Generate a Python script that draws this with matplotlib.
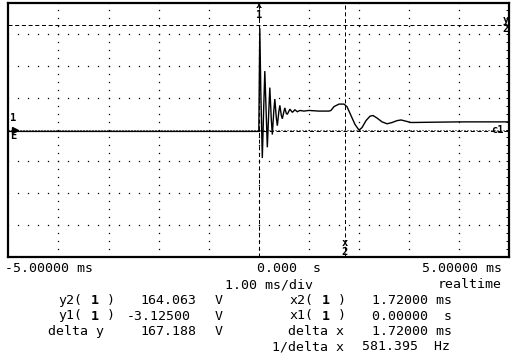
import matplotlib
matplotlib.use("Agg")
import matplotlib.pyplot as plt
import numpy as np

# ---------------- data ----------------
time_ms = [-5.00, -0.02, 0.00, 0.02, 0.04, 0.07, 0.10, 0.12, 0.15, 0.17, 0.20, 0.22,
           0.25, 0.27, 0.30, 0.32, 0.35, 0.37, 0.40, 0.42, 0.45, 0.47, 0.50, 0.52,
           0.55, 0.57, 0.62, 0.67, 0.72, 0.77, 0.82, 0.90, 1.00, 1.20, 1.40, 1.44,
           1.50, 1.60, 1.70, 1.76, 1.84, 1.92, 2.00, 2.06, 2.14, 2.22, 2.28, 2.36,
           2.46, 2.56, 2.66, 2.76, 2.84, 2.94, 3.04, 3.50, 4.00, 4.50, 5.00]
volts = [-3, -3, -3, 160, 60, -45, 40, 92, 20, -28, 30, 66,
         15, -8, 30, 48, 18, 6, 28, 38, 22, 17, 28, 34,
         25, 24, 32, 27, 31, 28, 30, 29, 30, 29, 29, 30,
         36, 40, 40, 36, 22, 8, -1, 3, 14, 21, 22, 18,
         12, 9, 11, 14, 15, 13, 11, 11.5, 12, 12, 12]

y2_val = 164.063
y1_val = -3.125
x1_val = 0.0
x2_val = 1.72

x_range = (-5.0, 5.0)
y_range = (-200.0, 200.0)

row1 = ["-5.00000 ms", "0.000  s", "5.00000 ms"]
row2 = ["1.00 ms/div", "realtime"]
left_heads = ["y2(", "y1("]
left_plain = ["delta y"]
left_values = ["164.063", "-3.12500", "167.188"]
right_heads = ["x2(", "x1("]
right_plain = ["delta x", "1/delta x"]
right_values = ["1.72000 ms", "0.00000  s", "1.72000 ms", "581.395  Hz"]
channel = "1"

# ---------------- figure ----------------
W, H = 511, 355
fig = plt.figure(figsize=(W / 100, H / 100), dpi=100, facecolor="white")

L, R, T, B = 8.3, 509.3, 2.5, 256.5
ax = fig.add_axes([L / W, 1 - B / H, (R - L) / W, (B - T) / H])
ax.set_xlim(*x_range)
ax.set_ylim(*y_range)
for s in ax.spines.values():
    s.set_linewidth(1.6)
    s.set_color("black")

ax.set_xticks([])
ax.yaxis.set_ticks_position("right")
ax.set_yticks(np.arange(-200, 200.1, 12.5))
ax.tick_params(axis="y", direction="in", length=2, width=0.72, labelright=False, labelleft=False)

# grid dots
dot_kw = dict(ls="none", marker="s", ms=0.9, mew=0, color="black")
xs_row = np.arange(-5.0, 5.001, 0.2)
for gy in [-150, -100, -50, 50, 100, 150]:
    ax.plot(xs_row, np.full_like(xs_row, gy), **dot_kw)
ys_col = np.arange(-200, 200.1, 12.5)
for gx in [-4, -3, -2, -1, 0, 1, 2, 3, 4]:
    ax.plot(np.full_like(ys_col, gx), ys_col, **dot_kw)
# dense center row
ax.axhline(0, color="black", lw=0.72, ls=(0, (1, 2)))

# cursors
dash = (0, (4, 2.7))
ax.axhline(y2_val, color="black", lw=0.72, ls=dash)
ax.axhline(y1_val, color="black", lw=0.72, ls=dash)
ax.axvline(x1_val, color="black", lw=0.72, ls=dash)
ax.axvline(x2_val, color="black", lw=0.72, ls=dash)

# trace
ax.plot(time_ms, volts, color="black", lw=1.0, solid_joinstyle="miter")

# ---------------- text ----------------
mono = "DejaVu Sans Mono"
fs = 9.5


def px(x, y):
    return x / W, 1 - y / H


def txt(x, y, s, **kw):
    params = dict(fontsize=fs, family=mono, ha="left", va="baseline", color="black")
    params.update(kw)
    fig.text(*px(x, y), s, **params)


# cursor labels
small = dict(fontsize=7.5, family=mono, weight="bold", ha="center", va="center")
fig.text(*px(258.8, 5), "x", **small)
fig.text(*px(258.8, 14.5), "1", **small)
fig.text(*px(344.9, 243), "x", **small)
fig.text(*px(344.9, 252), "2", **small)
fig.text(*px(505.5, 20), "y", **small)
fig.text(*px(505.5, 29), "2", **small)
fig.text(*px(497, 130), "c1", **small)
# channel marker on left
fig.text(*px(13, 118), "1", **small)
ax.plot([-4.86], [0], marker=">", ms=4, color="black", clip_on=False)
fig.text(*px(13.5, 136), "E", **small)

# readouts
txt(5, 272, row1[0])
txt(256.7, 272, row1[1])
txt(502, 272, row1[2], ha="right")
txt(225, 288, row2[0])
txt(502, 288, row2[1], ha="right")

ybase = [304, 319.5, 335]
for i in range(2):
    txt(58.3, ybase[i], left_heads[i])
    txt(90.3, ybase[i], channel, weight="bold")
    txt(106.3, ybase[i], ")")
    txt(290, ybase[i], right_heads[i])
    txt(322.0, ybase[i], channel, weight="bold")
    txt(338.0, ybase[i], ")")
txt(48.3, ybase[2], left_plain[0])
for i in range(3):
    txt(140 if i != 1 else 126.7, ybase[i], left_values[i])
    txt(215, ybase[i], "V")

rbase = ybase + [350.5]
txt(288.3, rbase[2], right_plain[0])
txt(271.7, rbase[3], right_plain[1])
rv = [371.7, 371.7, 371.7, 361.7]
for i in range(4):
    txt(rv[i], rbase[i], right_values[i])

fig.savefig("out.png", dpi=100, facecolor="white")
